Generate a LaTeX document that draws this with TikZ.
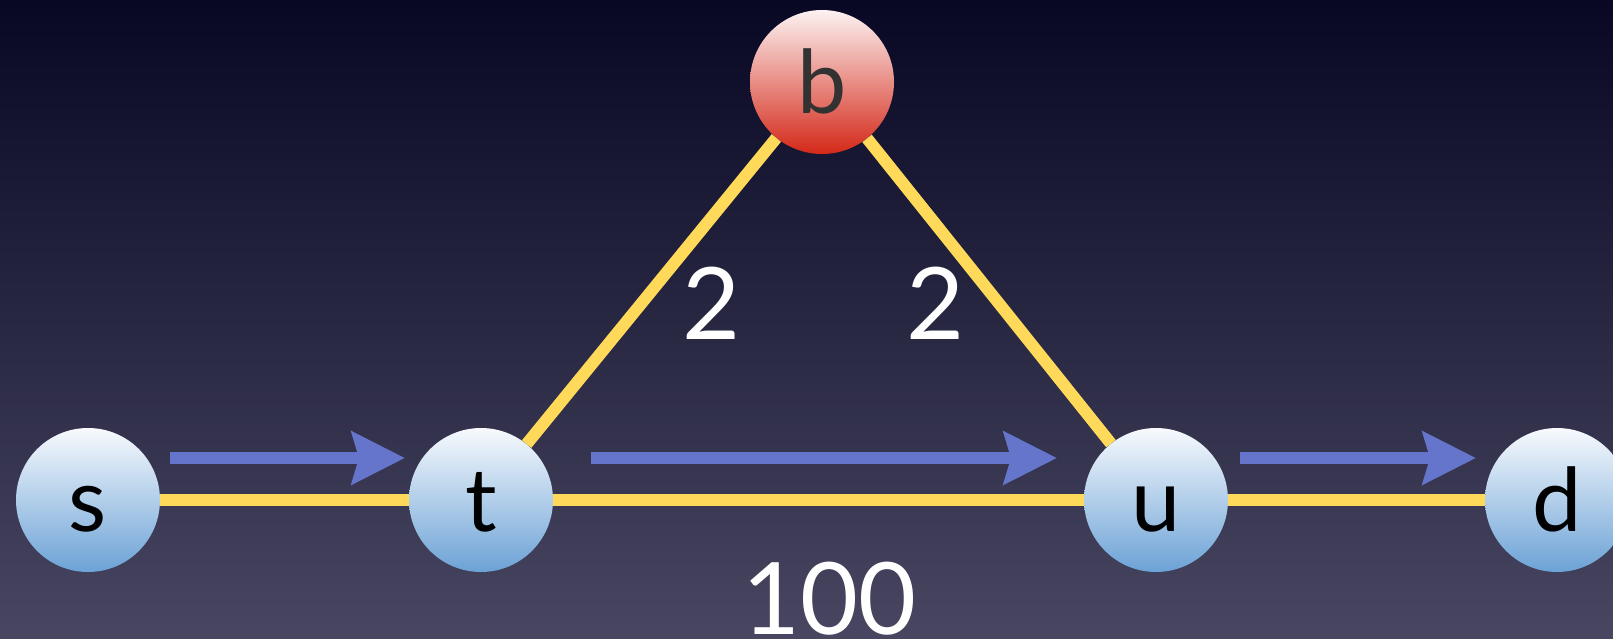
\documentclass[tikz,border=0pt]{standalone}
\usepackage{fontspec}
\setmainfont{Lato}
\usetikzlibrary{arrows.meta}
\definecolor{bgtop}{RGB}{8,8,36}
\definecolor{bgbot}{RGB}{72,70,96}
\definecolor{edgey}{RGB}{255,218,90}
\definecolor{arrb}{RGB}{102,117,204}
\definecolor{ntop}{RGB}{247,250,253}
\definecolor{nbot}{RGB}{108,162,214}
\definecolor{rtop}{RGB}{252,242,242}
\definecolor{rbot}{RGB}{212,40,24}
\definecolor{btext}{RGB}{50,50,50}
\tikzset{
  host/.style={circle, minimum size=144pt, inner sep=0pt, top color=ntop, bottom color=nbot,
    font=\fontsize{88}{90}\selectfont, text height=62pt, text depth=0pt, text=black},
  redhost/.style={host, top color=rtop, bottom color=rbot, text=btext},
  link/.style={draw=edgey, line width=12pt},
  flow/.style={draw=arrb, line width=12pt, -{Stealth[length=53pt,width=52pt,inset=7pt]}},
  weight/.style={anchor=base, text=white, font=\fontsize{100}{100}\selectfont}
}
\begin{document}
\begin{tikzpicture}[x=1pt,y=-1pt]
\useasboundingbox (0,0) rectangle (1613,638);
\clip (0,0) rectangle (1613,638);
\shade[top color=bgtop, bottom color=bgbot] (0,0) rectangle (1613,638);
\node[host] (s) at (88,500) {s};
\node[host] (t) at (481,500) {t};
\node[host] (u) at (1156,500) {u};
\node[host] (d) at (1557,500) {d};
\node[redhost] (b) at (822,82) {b};
\draw[link] (s) -- (t);
\draw[link] (t) -- (u);
\draw[link] (u) -- (d);
\draw[link] (t) -- (b);
\draw[link] (b) -- (u);
\node[weight] (w1) at (711,339) {2};
\node[weight] (w2) at (935,339) {2};
\node[weight] (w3) at (829,634) {100};
\coordinate (a1s) at (170,458);
\coordinate (a1e) at (405,458);
\coordinate (a2s) at (591,458);
\coordinate (a2e) at (1057,458);
\coordinate (a3s) at (1240,458);
\coordinate (a3e) at (1476,458);
\draw[flow] (a1s) -- (a1e);
\draw[flow] (a2s) -- (a2e);
\draw[flow] (a3s) -- (a3e);
\end{tikzpicture}
\end{document}
